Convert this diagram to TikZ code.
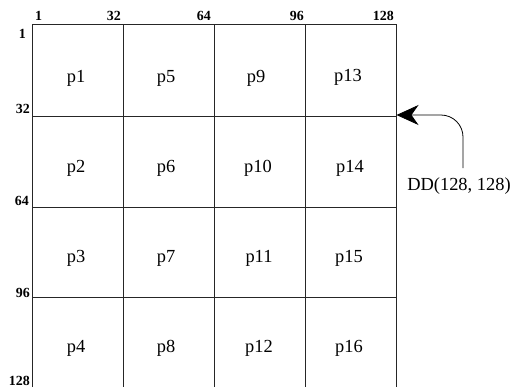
\documentclass[tikz,border=0pt]{standalone}
\usepackage{fontspec}
\setmainfont{Liberation Serif}
\usetikzlibrary{arrows.meta}
\begin{document}
\begin{tikzpicture}[x=1bp,y=-1bp,
  gridline/.style={line width=0.8bp,black!85},
  cell/.style={font=\fontsize{18.5}{20}\selectfont,inner sep=0pt},
  num/.style={font=\fontsize{14}{15}\selectfont\bfseries,inner sep=0pt},
  ptr/.style={line width=0.8bp,rounded corners=22bp,-{Stealth[length=22bp,width=20bp,inset=7bp]}}]
\useasboundingbox (0,0) rectangle (512,387);
% grid
\draw[gridline] (32,387) -- (32,24) -- (396,24) -- (396,387);
\foreach \x in {123,214,305} \draw[gridline] (\x,24) -- (\x,387);
\foreach \y in {116,207,297} \draw[gridline] (32,\y) -- (396,\y);
% cell labels
\node[cell] (p1) at (76,78) {p1};
\node[cell] (p5) at (166,78) {p5};
\node[cell] (p9) at (256,78) {p9};
\node[cell] (p13) at (348,77) {p13};
\node[cell] (p2) at (76,168) {p2};
\node[cell] (p6) at (166,168) {p6};
\node[cell] (p10) at (258,168) {p10};
\node[cell] (p14) at (350,168) {p14};
\node[cell] (p3) at (76,258) {p3};
\node[cell] (p7) at (166,258) {p7};
\node[cell] (p11) at (259,258) {p11};
\node[cell] (p15) at (349,258) {p15};
\node[cell] (p4) at (76,348) {p4};
\node[cell] (p8) at (166,348) {p8};
\node[cell] (p12) at (259,348) {p12};
\node[cell] (p16) at (349,348) {p16};
% top scale
\node[num,anchor=base west] (t1) at (35,20) {1};
\node[num,anchor=base east] (t32) at (121,20) {32};
\node[num,anchor=base east] (t64) at (211,20) {64};
\node[num,anchor=base east] (t96) at (304,20) {96};
\node[num,anchor=base east] (t128) at (394,20) {128};
% left scale
\node[num,anchor=base east] (l1) at (26,38) {1};
\node[num,anchor=base east] (l32) at (30,113) {32};
\node[num,anchor=base east] (l64) at (29,205) {64};
\node[num,anchor=base east] (l96) at (30,297) {96};
\node[num,anchor=base east] (l128) at (30,385) {128};
% pointer
\coordinate (corner) at (396.5,115);
\node[cell] (dd) at (459,186) {DD(128, 128)};
\coordinate (ddtop) at (463,168);
\draw[ptr] (ddtop) |- (corner);
\end{tikzpicture}
\end{document}
